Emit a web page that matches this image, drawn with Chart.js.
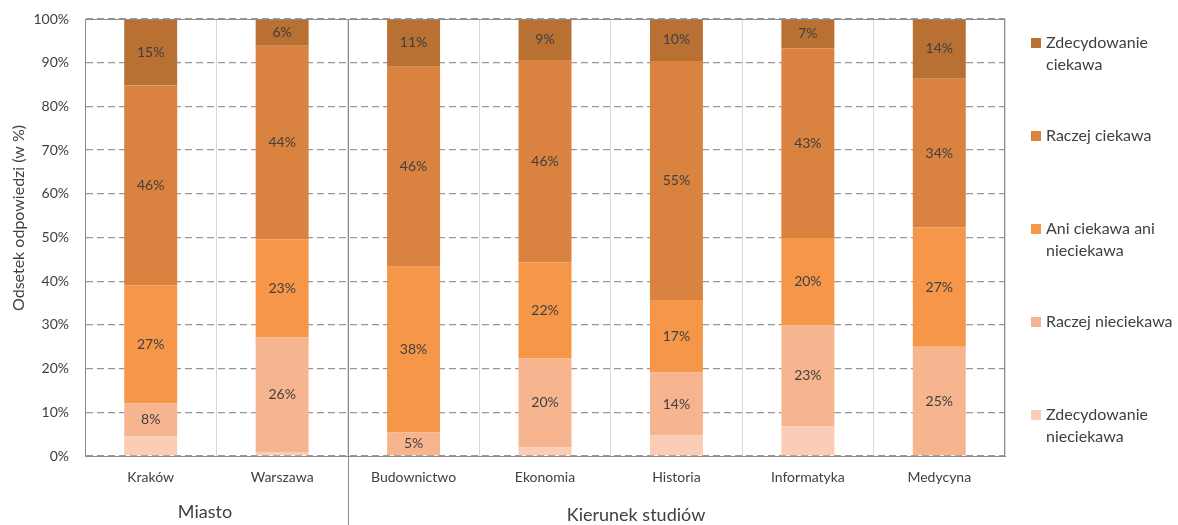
<!DOCTYPE html>
<html>
<head>
<meta charset="utf-8">
<script src="https://cdn.jsdelivr.net/npm/chart.js@4.4.0/dist/chart.umd.min.js"></script>
<style>
  body { margin: 0; background: #fff; }
  #wrap { width: 1178px; height: 525px; }
</style>
</head>
<body>
<div id="wrap"><canvas id="myChart" width="1178" height="525"></canvas></div>
<script>
// kategorie i wartości (w %)
const categories = ['Kraków', 'Warszawa', 'Budownictwo', 'Ekonomia', 'Historia', 'Informatyka', 'Medycyna'];
const seriesNames = ['Zdecydowanie nieciekawa', 'Raczej nieciekawa', 'Ani ciekawa ani nieciekawa', 'Raczej ciekawa', 'Zdecydowanie ciekawa'];
const legendLines = [['Zdecydowanie', 'nieciekawa'], ['Raczej nieciekawa'], ['Ani ciekawa ani', 'nieciekawa'], ['Raczej ciekawa'], ['Zdecydowanie', 'ciekawa']];
const zdecNie   = [4.5, 0.9, 0.0, 2.0, 4.7, 6.8, 0.0];
const raczejNie = [7.5, 26.2, 5.4, 20.3, 14.4, 23.1, 25.0];
const ani       = [27.1, 22.5, 37.9, 22.0, 16.6, 20.0, 27.3];
const raczejCie = [45.7, 44.3, 45.8, 46.3, 54.7, 43.4, 34.0];
const zdecCie   = [15.2, 6.1, 10.9, 9.4, 9.6, 6.7, 13.7];
const yTicks = [0, 10, 20, 30, 40, 50, 60, 70, 80, 90, 100];
const groups = [{ name: 'Miasto', from: 0, to: 1 }, { name: 'Kierunek studiów', from: 2, to: 6 }];

const colors = ['#FBCDB6', '#F7B58F', '#F59649', '#DA823F', '#B87033'];
const FONT = 'Lato, "Open Sans", sans-serif';
const TXT = '#404040';

const data = {
    labels: categories,
    datasets: [zdecNie, raczejNie, ani, raczejCie, zdecCie].map((d, i) => ({
        label: seriesNames[i],
        data: d,
        backgroundColor: colors[i],
        borderWidth: 0,
        categoryPercentage: 1,
        barPercentage: 0.403,
        showLabel: i > 0
    }))
};

// etykiety w słupkach
const segLabels = {
    id: 'segLabels',
    afterDatasetsDraw(chart) {
        const { ctx } = chart;
        ctx.save();
        ctx.font = '14px ' + FONT;
        ctx.fillStyle = TXT;
        ctx.textAlign = 'center';
        ctx.textBaseline = 'middle';
        chart.data.datasets.forEach((ds, i) => {
            if (!ds.showLabel) return;
            chart.getDatasetMeta(i).data.forEach((bar, j) => {
                const v = ds.data[j];
                if (!v) return;
                const yc = (bar.y + bar.base) / 2;
                ctx.fillText(Math.round(v) + '%', bar.x, yc);
            });
        });
        ctx.restore();
    }
};

// ramka, separator grup, podpisy grup, tytuł osi Y, legenda
const extras = {
    id: 'extras',
    afterDraw(chart) {
        const { ctx, chartArea: { left, right, top, bottom }, scales: { x } } = chart;
        ctx.save();
        ctx.strokeStyle = '#8c8c8c';
        ctx.lineWidth = 1;
        ctx.strokeRect(left + 0.5, top + 0.5, right - left - 1, bottom - top);

        // separator między grupami
        const sx = Math.round((x.getPixelForValue(1) + x.getPixelForValue(2)) / 2) + 0.5;
        ctx.beginPath();
        ctx.moveTo(sx, top);
        ctx.lineTo(sx, chart.height);
        ctx.stroke();

        // podpisy grup
        ctx.fillStyle = TXT;
        ctx.font = '18px ' + FONT;
        ctx.textAlign = 'center';
        ctx.textBaseline = 'middle';
        ctx.fillText(groups[0].name, 205, 512);
        ctx.fillText(groups[1].name, 636, 515);

        // tytuł osi Y
        ctx.save();
        ctx.translate(19, 218);
        ctx.rotate(-Math.PI / 2);
        ctx.font = '16px ' + FONT;
        ctx.fillText('Odsetek odpowiedzi (w %)', 0, 0);
        ctx.restore();

        // legenda (odwrócona kolejność)
        ctx.font = '16px ' + FONT;
        ctx.textAlign = 'left';
        for (let k = 0; k < 5; k++) {
            const i = 4 - k;
            const y0 = 43 + 93 * k;
            ctx.fillStyle = colors[i];
            ctx.fillRect(1031, y0 - 5, 10, 10);
            ctx.fillStyle = TXT;
            legendLines[i].forEach((ln, n) => ctx.fillText(ln, 1046, y0 + 22 * n));
        }
        ctx.restore();
    }
};

const config = {
    type: 'bar',
    data,
    options: {
        responsive: false,
        animation: false,
        layout: { padding: { top: 19, right: 173, left: 0, bottom: 0 } },
        plugins: {
            legend: { display: false },
            tooltip: { enabled: false }
        },
        scales: {
            x: {
                stacked: true,
                afterFit(s) { s.height = 69; },
                grid: { color: '#d9d9d9', drawTicks: false, offset: true },
                border: { color: '#8c8c8c' },
                ticks: { color: TXT, font: { family: FONT, size: 14 }, padding: 13, maxRotation: 0 }
            },
            y: {
                stacked: true,
                min: 0,
                max: 100,
                afterFit(s) { s.width = 85; s.paddingTop = 8; s.paddingBottom = 8; },
                afterBuildTicks(s) { s.ticks = yTicks.map(v => ({ value: v })); },
                grid: { color: '#999999', lineWidth: 1.3, drawTicks: false },
                border: { color: '#8c8c8c', dash: [7, 4] },
                ticks: {
                    color: TXT,
                    font: { family: FONT, size: 14 },
                    padding: 16,
                    callback: v => v + '%'
                }
            }
        }
    },
    plugins: [segLabels, extras]
};

const myChart = new Chart(document.getElementById('myChart'), config);
</script>
</body>
</html>
